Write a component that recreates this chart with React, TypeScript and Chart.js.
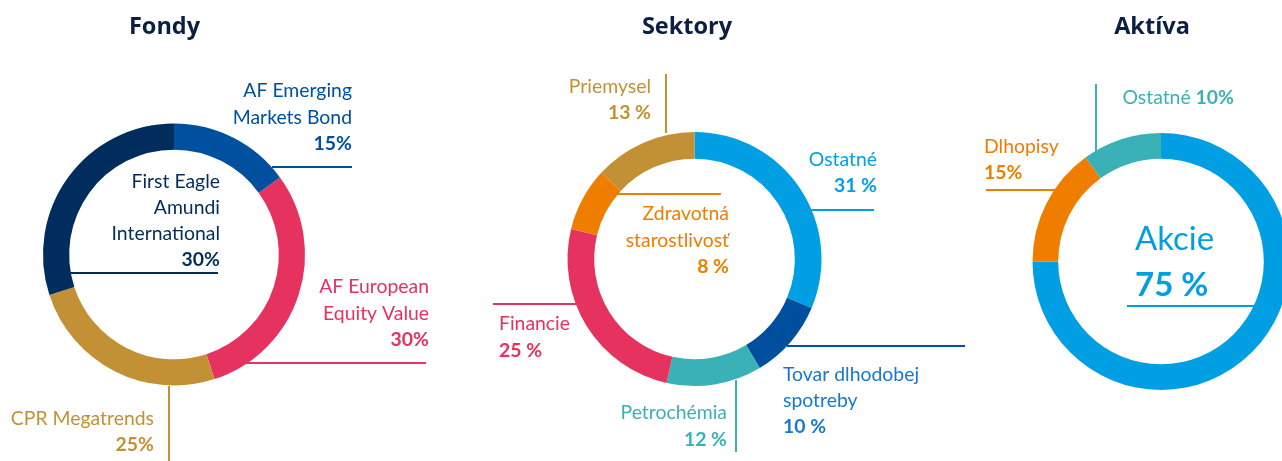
import React, { useEffect, useRef } from 'react';
import { Chart, registerables } from 'chart.js';

Chart.register(...registerables);

// ---------- DATA ----------
const fondyTitle = 'Fondy';
const fondyLabels = [['AF Emerging', 'Markets Bond'], ['AF European', 'Equity Value'], ['CPR Megatrends'], ['First Eagle', 'Amundi', 'International']];
const fondyValues = [15, 30, 25, 30];

const sektoryTitle = 'Sektory';
const sektoryLabels = [['Ostatné'], ['Tovar dlhodobej', 'spotreby'], ['Petrochémia'], ['Financie'], ['Zdravotná', 'starostlivosť'], ['Priemysel']];
const sektoryValues = [31, 10, 12, 25, 8, 13];

const aktivaTitle = 'Aktíva';
const aktivaLabels = [['Akcie'], ['Dlhopisy'], ['Ostatné']];
const aktivaValues = [75, 15, 10];

// ---------- STYLE ----------
const fondyColors = ['#0050A0', '#E5325F', '#C39135', '#002C5E'];
const fondyText = ['#0050A0', '#E5325F', '#C39135', '#002C5E'];
const sektoryColors = ['#009FE3', '#004F9F', '#3AB1B6', '#E5325F', '#EF7D00', '#C39135'];
const sektoryText = ['#009FE3', '#1778CC', '#3AB1B6', '#E5325F', '#EF7D00', '#C39135'];
const aktivaColors = ['#009FE3', '#EF7D00', '#3AB1B6'];
const aktivaText = ['#009FE3', '#EF7D00', '#3AB1B6'];

const W = 1300;
const H = 461;
const LABEL_FONT = 'Lato, "Open Sans", sans-serif';
const TITLE_FONT = '"Open Sans", Lato, sans-serif';
const TITLE_COLOR = '#0B1F45';
const LABEL_SIZE = 19.4;

type Note = {
  i: number;
  dx: number;
  dy: number;
  align: 'left' | 'right';
  lh: number;
  sep: string;
  size?: number;
  inline?: boolean;
  seg: [number, number, number, number];
};

const fondyNotes: Note[] = [
  { i: 0, dx: 178, dy: -163.5, align: 'right', lh: 26.5, sep: '', seg: [98, -87.5, 178, -87.5] },
  { i: 3, dx: 46, dy: -72.5, align: 'right', lh: 26, sep: '', seg: [-104, 18.5, 44, 18.5] },
  { i: 1, dx: 255, dy: 32.5, align: 'right', lh: 26.5, sep: '', seg: [71, 108.5, 252, 108.5] },
  { i: 2, dx: -20, dy: 164.5, align: 'right', lh: 26, sep: '', seg: [-5, 131.5, -5, 210] },
];

const sektoryNotes: Note[] = [
  { i: 5, dx: -43.5, dy: -172, align: 'right', lh: 26, sep: ' ', seg: [-28.5, -185, -28.5, -126] },
  { i: 0, dx: 182.5, dy: -99, align: 'right', lh: 26, sep: ' ', seg: [115.5, -49, 179.5, -49] },
  { i: 4, dx: 34.5, dy: -45, align: 'right', lh: 26.5, sep: ' ', seg: [-79.5, -65, 26.5, -65] },
  { i: 3, dx: -195.5, dy: 65, align: 'left', lh: 27, sep: ' ', seg: [-201.5, 45, -116.5, 45] },
  { i: 2, dx: 32.5, dy: 154, align: 'right', lh: 27, sep: ' ', seg: [41.5, 121, 41.5, 193] },
  { i: 1, dx: 88.5, dy: 116, align: 'left', lh: 26, sep: ' ', seg: [92.5, 87, 270.5, 87] },
];

const aktivaNotes: Note[] = [
  { i: 2, dx: 73, dy: -163.5, align: 'right', lh: 26, sep: '', inline: true, seg: [-65, -177.5, -65, -109.5] },
  { i: 1, dx: -177, dy: -114.5, align: 'left', lh: 26, sep: '', seg: [-175, -71.5, -106, -71.5] },
  { i: 0, dx: -26, dy: -22.5, align: 'left', lh: 46, sep: ' ', size: 33, seg: [-34, 44.5, 94, 44.5] },
];

type DonutCfg = {
  title: string;
  labels: string[][];
  values: number[];
  colors: string[];
  textColors: string[];
  notes: Note[];
  cx: number;
  cy: number;
  r: number;
  cutout: string;
  titleDx: number;
  titleY: number;
};

const configs: DonutCfg[] = [
  { title: fondyTitle, labels: fondyLabels, values: fondyValues, colors: fondyColors, textColors: fondyText, notes: fondyNotes, cx: 174, cy: 254.5, r: 131, cutout: '80%', titleDx: -9.5, titleY: 27 },
  { title: sektoryTitle, labels: sektoryLabels, values: sektoryValues, colors: sektoryColors, textColors: sektoryText, notes: sektoryNotes, cx: 694.5, cy: 259, r: 127, cutout: '79%', titleDx: -7.5, titleY: 27 },
  { title: aktivaTitle, labels: aktivaLabels, values: aktivaValues, colors: aktivaColors, textColors: aktivaText, notes: aktivaNotes, cx: 1161, cy: 261.5, r: 128.5, cutout: '80%', titleDx: -9, titleY: 27 },
];

function makeLabelPlugin(cfg: DonutCfg) {
  return {
    id: 'donutLabels',
    afterDraw(chart: any) {
      const ctx = chart.ctx as CanvasRenderingContext2D;
      const arc = chart.getDatasetMeta(0).data[0];
      const cx = arc.x;
      const cy = arc.y;
      const labels = chart.data.labels as string[][];
      const values = chart.data.datasets[0].data as number[];
      ctx.save();
      // title
      ctx.fillStyle = TITLE_COLOR;
      ctx.font = `700 23.5px ${TITLE_FONT}`;
      ctx.textAlign = 'center';
      ctx.textBaseline = 'middle';
      ctx.fillText(cfg.title, cx + cfg.titleDx, cfg.titleY);

      for (const n of cfg.notes) {
        const color = cfg.colors[n.i];
        const tcolor = cfg.textColors[n.i];
        // leader line
        ctx.strokeStyle = color;
        ctx.lineWidth = 2;
        ctx.beginPath();
        ctx.moveTo(cx + n.seg[0], cy + n.seg[1]);
        ctx.lineTo(cx + n.seg[2], cy + n.seg[3]);
        ctx.stroke();

        const size = n.size || LABEL_SIZE;
        const normal = `400 ${size}px ${LABEL_FONT}`;
        const bold = `700 ${size}px ${LABEL_FONT}`;
        const valText = `${values[n.i]}${n.sep}%`;
        const lines = labels[n.i];
        ctx.fillStyle = tcolor;
        ctx.textBaseline = 'middle';
        const x = cx + n.dx;
        let y = cy + n.dy;
        if (n.inline) {
          const a = lines.join(' ') + ' ';
          ctx.font = normal;
          const wa = ctx.measureText(a).width;
          ctx.font = bold;
          const wb = ctx.measureText(valText).width;
          const start = n.align === 'right' ? x - wa - wb : x;
          ctx.textAlign = 'left';
          ctx.font = normal;
          ctx.fillText(a, start, y);
          ctx.font = bold;
          ctx.fillText(valText, start + wa, y);
        } else {
          ctx.textAlign = n.align;
          ctx.font = normal;
          for (const line of lines) {
            ctx.fillText(line, x, y);
            y += n.lh;
          }
          ctx.font = bold;
          ctx.fillText(valText, x, y);
        }
      }
      ctx.restore();
    },
  };
}

function Donut({ cfg }: { cfg: DonutCfg }) {
  const ref = useRef<HTMLCanvasElement>(null);
  useEffect(() => {
    if (!ref.current) return;
    const chart = new Chart(ref.current, {
      type: 'doughnut',
      data: {
        labels: cfg.labels as any,
        datasets: [
          {
            data: cfg.values,
            backgroundColor: cfg.colors,
            borderWidth: 0,
            hoverOffset: 0,
          },
        ],
      },
      options: {
        responsive: false,
        animation: false,
        devicePixelRatio: 1,
        events: [],
        cutout: cfg.cutout,
        layout: {
          padding: {
            left: cfg.cx - cfg.r,
            right: W - (cfg.cx + cfg.r),
            top: cfg.cy - cfg.r,
            bottom: H - (cfg.cy + cfg.r),
          },
        },
        plugins: {
          legend: { display: false },
          tooltip: { enabled: false },
          title: { display: false },
        },
      },
      plugins: [makeLabelPlugin(cfg)],
    });
    return () => chart.destroy();
  }, [cfg]);
  return (
    <canvas
      ref={ref}
      width={W}
      height={H}
      style={{ position: 'absolute', left: 0, top: 0, width: W, height: H }}
    />
  );
}

export default function App() {
  return (
    <div
      style={{
        position: 'fixed',
        left: 0,
        top: 0,
        width: 1282,
        height: 461,
        overflow: 'hidden',
        background: '#ffffff',
      }}
    >
      {configs.map((c) => (
        <Donut key={c.title} cfg={c} />
      ))}
    </div>
  );
}
